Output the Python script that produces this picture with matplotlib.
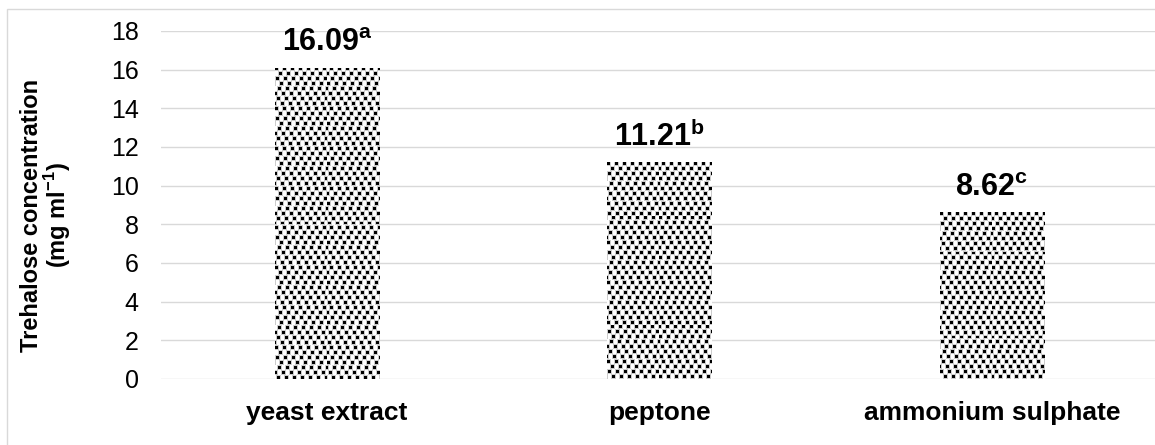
import numpy as np
import matplotlib
matplotlib.use("Agg")
import matplotlib.pyplot as plt
from matplotlib.patches import Rectangle

plt.rcParams['font.family'] = ['Liberation Sans', 'DejaVu Sans']
plt.rcParams['mathtext.fontset'] = 'custom'
plt.rcParams['mathtext.rm'] = 'Liberation Sans'
plt.rcParams['mathtext.bf'] = 'Liberation Sans:bold'

# nitrogen sources and measured trehalose
sources = ['yeast extract', 'peptone', 'ammonium sulphate']
trehalose = [16.09, 11.21, 8.62]
letters = ['a', 'b', 'c']
yticks = [0, 2, 4, 6, 8, 10, 12, 14, 16, 18]

W, H, DPI = 1155, 445, 100
GRID = '#d9d9d9'

# confetti fill: one square per row of the tile, shifted sideways
ROW_SHIFT = [0, 4, 1, 5, 3, 7, 2, 6]


def confetti(h, w):
    th, tw = 5 * len(ROW_SHIFT), 8
    tile = np.zeros((th, tw))
    for k, sx in enumerate(ROW_SHIFT):
        for dy in range(-1, 4):
            for dx in range(-1, 4):
                core = 0 <= dy < 3 and 0 <= dx < 3
                val = 1.0 if core else 0.2
                r, c = (5 * k + dy) % th, (sx + dx) % tw
                tile[r, c] = max(tile[r, c], val)
    reps = (h // th + 1, w // tw + 1)
    return np.tile(tile, reps)[:h, :w]


fig = plt.figure(figsize=(W / DPI, H / DPI), dpi=DPI)
ax = fig.add_axes([161 / W, (H - 379) / H, (1158 - 161) / W, (379 - 31) / H])

x = np.arange(len(sources))
bars = ax.bar(x, trehalose, width=0.313, color='white', edgecolor='none', zorder=2)

ax.set_xlim(-0.5, len(sources) - 0.5)
ax.set_ylim(0, 18)
ax.set_yticks(yticks)
ax.set_xticks(x)
ax.set_xticklabels(sources, fontsize=19, fontweight='bold')
ax.tick_params(axis='y', length=0, pad=16, labelsize=18)
ax.tick_params(axis='x', length=0, pad=16)
ax.grid(axis='y', color=GRID, linewidth=1.0, zorder=0)
for s in ax.spines.values():
    s.set_visible(False)
ax.set_axisbelow(True)

ax.set_ylabel('Trehalose concentration\n(mg ml$^{\\mathregular{-1}}$)',
              fontsize=17, fontweight='bold', linespacing=0.95)
ax.yaxis.set_label_coords(-0.0883, 0.471)

# fill each bar with the dotted texture, clipped to the bar
for b in bars:
    (x0, y0), (x1, y1) = ax.transData.transform(
        [(b.get_x(), 0), (b.get_x() + b.get_width(), b.get_height())])
    tex = confetti(int(round(y1 - y0)) + 2, int(round(x1 - x0)) + 2)
    im = ax.imshow(tex, cmap='gray_r', vmin=0, vmax=1, interpolation='nearest',
                   extent=(b.get_x(), b.get_x() + b.get_width(), 0, b.get_height()),
                   aspect='auto', zorder=3)
    im.set_clip_path(b)

for xi, v, lt in zip(x, trehalose, letters):
    ax.annotate(f'{v:.2f}$^{{\\mathbf{{{lt}}}}}$', (xi, v), xytext=(0, 12),
                textcoords='offset points', ha='center', va='baseline',
                fontsize=22, fontweight='bold', zorder=4)

fig.patches.append(Rectangle((7 / W, -0.05), 1.2, 1 - 9 / H + 0.05,
                             transform=fig.transFigure, fill=False,
                             edgecolor=GRID, linewidth=1.0))

fig.savefig('out.png', dpi=DPI)
